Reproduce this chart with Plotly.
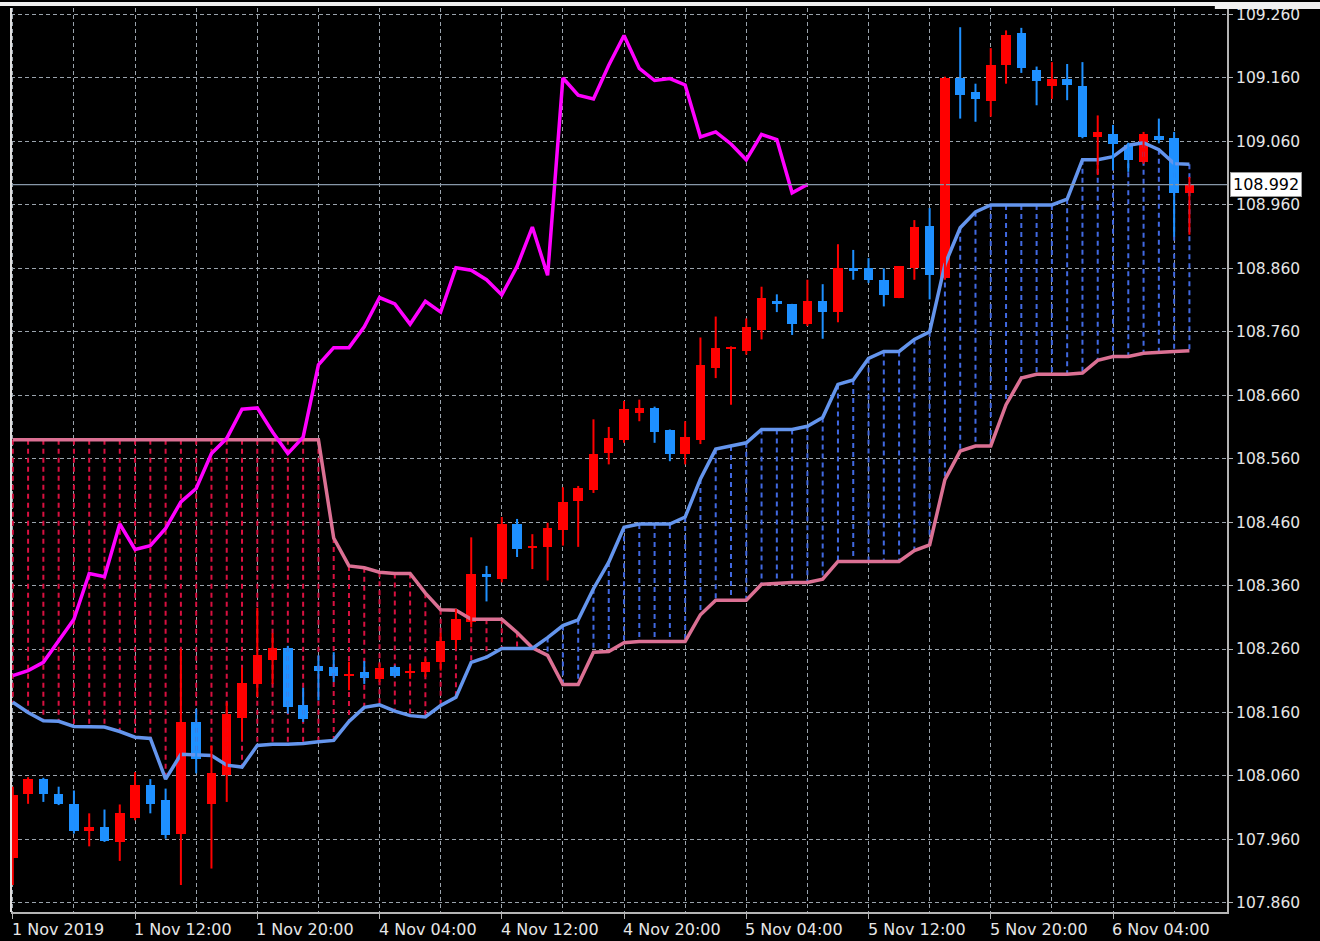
import plotly.graph_objects as go

# ---------------- data ----------------
bars = list(range(78))  # hourly bars, 1 Nov 2019 04:00 ... 6 Nov 09:00

opens = [107.930, 108.031, 108.055, 108.031, 108.015, 107.973, 107.979, 107.956, 107.994, 108.046,
         108.022, 107.968, 108.145, 108.016, 108.062, 108.152, 108.205, 108.243, 108.262, 108.171,
         108.234, 108.231, 108.218, 108.223, 108.213, 108.231, 108.223, 108.223, 108.239, 108.274,
         108.302, 108.378, 108.370, 108.457, 108.419, 108.421, 108.447, 108.493, 108.510, 108.569,
         108.589, 108.632, 108.640, 108.605, 108.567, 108.589, 108.703, 108.733, 108.729, 108.763,
         108.808, 108.803, 108.772, 108.808, 108.791, 108.860, 108.860, 108.842, 108.814, 108.860,
         108.927, 108.844, 109.160, 109.138, 109.123, 109.180, 109.231, 109.173, 109.147, 109.159,
         109.147, 109.067, 109.072, 109.054, 109.027, 109.069, 109.066, 108.979]
highs = [108.043, 108.058, 108.057, 108.043, 108.037, 108.001, 108.007, 108.015, 108.066, 108.055,
         108.040, 108.260, 108.166, 108.108, 108.176, 108.231, 108.325, 108.285, 108.265, 108.199,
         108.250, 108.255, 108.240, 108.241, 108.237, 108.234, 108.234, 108.245, 108.286, 108.323,
         108.436, 108.391, 108.468, 108.465, 108.441, 108.459, 108.515, 108.517, 108.622, 108.610,
         108.651, 108.653, 108.642, 108.606, 108.619, 108.751, 108.784, 108.737, 108.781, 108.831,
         108.819, 108.804, 108.842, 108.835, 108.898, 108.889, 108.876, 108.860, 108.863, 108.936,
         108.955, 109.162, 109.240, 109.151, 109.207, 109.235, 109.239, 109.178, 109.185, 109.182,
         109.185, 109.101, 109.086, 109.058, 109.075, 109.096, 109.075, 109.004]
lows = [107.888, 108.016, 108.019, 108.014, 107.969, 107.949, 107.956, 107.926, 107.990, 108.001,
        107.961, 107.888, 108.064, 107.914, 108.019, 108.116, 108.184, 108.205, 108.158, 108.145,
        108.179, 108.208, 108.195, 108.205, 108.208, 108.215, 108.213, 108.216, 108.226, 108.260,
        108.294, 108.335, 108.365, 108.405, 108.386, 108.368, 108.423, 108.421, 108.506, 108.551,
        108.585, 108.619, 108.585, 108.556, 108.551, 108.583, 108.687, 108.645, 108.724, 108.748,
        108.791, 108.755, 108.769, 108.749, 108.775, 108.842, 108.837, 108.800, 108.813, 108.842,
        108.811, 108.842, 109.096, 109.091, 109.099, 109.151, 109.168, 109.117, 109.127, 109.125,
        109.065, 109.007, 109.015, 109.012, 109.025, 109.057, 108.910, 108.913]
closes = [108.030, 108.055, 108.031, 108.016, 107.973, 107.980, 107.958, 108.001, 108.045, 108.016,
          107.967, 108.145, 108.086, 108.065, 108.157, 108.207, 108.250, 108.261, 108.168, 108.150,
          108.226, 108.217, 108.221, 108.214, 108.230, 108.218, 108.226, 108.239, 108.273, 108.307,
          108.379, 108.374, 108.457, 108.417, 108.423, 108.450, 108.492, 108.513, 108.568, 108.592,
          108.638, 108.640, 108.602, 108.568, 108.594, 108.708, 108.735, 108.735, 108.768, 108.814,
          108.804, 108.772, 108.808, 108.791, 108.861, 108.857, 108.842, 108.818, 108.863, 108.925,
          108.849, 109.160, 109.133, 109.127, 109.180, 109.227, 109.175, 109.156, 109.159, 109.149,
          109.067, 109.075, 109.056, 109.031, 109.071, 109.063, 108.979, 108.992]

# Ichimoku Senkou Span A (blue) and Senkou Span B (pink), per visible bar
senkou_a = [108.176, 108.160, 108.147, 108.146, 108.138, 108.137, 108.137, 108.130, 108.121, 108.119,
            108.055, 108.094, 108.093, 108.092, 108.077, 108.074, 108.108, 108.110, 108.110, 108.111,
            108.114, 108.116, 108.146, 108.168, 108.172, 108.162, 108.155, 108.153, 108.171, 108.184,
            108.239, 108.247, 108.261, 108.261, 108.261, 108.278, 108.297, 108.306, 108.355, 108.397,
            108.452, 108.457, 108.457, 108.457, 108.468, 108.528, 108.575, 108.580, 108.585, 108.606,
            108.606, 108.606, 108.611, 108.625, 108.677, 108.684, 108.718, 108.729, 108.729, 108.748,
            108.760, 108.866, 108.924, 108.949, 108.960, 108.960, 108.960, 108.960, 108.960, 108.969,
            109.031, 109.031, 109.036, 109.054, 109.058, 109.047, 109.025, 109.024]
senkou_b = [108.590, 108.590, 108.590, 108.590, 108.590, 108.590, 108.590, 108.590, 108.590, 108.590,
            108.590, 108.590, 108.590, 108.590, 108.590, 108.590, 108.590, 108.590, 108.590, 108.590,
            108.590, 108.435, 108.391, 108.388, 108.381, 108.379, 108.379, 108.348, 108.322, 108.321,
            108.307, 108.307, 108.307, 108.286, 108.262, 108.250, 108.204, 108.204, 108.255, 108.256,
            108.270, 108.272, 108.272, 108.272, 108.272, 108.314, 108.337, 108.337, 108.337, 108.362,
            108.364, 108.365, 108.365, 108.370, 108.398, 108.398, 108.398, 108.398, 108.398, 108.415,
            108.424, 108.527, 108.572, 108.580, 108.580, 108.645, 108.687, 108.693, 108.693, 108.693,
            108.695, 108.715, 108.721, 108.721, 108.726, 108.728, 108.729, 108.730]

chikou_shift = 25  # Chikou span = close plotted 25 bars back

x_label_bars = [0, 8, 16, 24, 32, 40, 48, 56, 64, 72]
x_label_text = ["1 Nov 2019", "1 Nov 12:00", "1 Nov 20:00", "4 Nov 04:00", "4 Nov 12:00",
                "4 Nov 20:00", "5 Nov 04:00", "5 Nov 12:00", "5 Nov 20:00", "6 Nov 04:00"]
y_tick_vals = [107.86, 107.96, 108.06, 108.16, 108.26, 108.36, 108.46, 108.56, 108.66, 108.76,
               108.86, 108.96, 109.06, 109.16, 109.26]
current_price = 108.992

# ---------------- styles ----------------
BG = "#000000"
GRID = "#9aa3ac"
AXIS = "#b4b4b4"
TXT = "#e6e6e6"
UP = "#ff0000"
DOWN = "#1e90ff"
SPAN_A = "#6495ed"
SPAN_B = "#db7093"
CHIKOU = "#ff00ff"
HATCH_RED = "#d81040"
HATCH_BLUE = "#4169e1"
FONT = "DejaVu Sans"
X_MIN, X_MAX = -0.118, 79.46
Y_MIN, Y_MAX = 107.8455, 109.2703

fig = go.Figure()

# cloud hatch (vertical dotted lines between the spans)
hx_r, hy_r, hx_b, hy_b = [], [], [], []
for i, a, b in zip(bars, senkou_a, senkou_b):
    top, bot = max(a, b), min(a, b)
    if b > a:
        hx_r += [i, i, None]; hy_r += [top, bot, None]
    else:
        hx_b += [i, i, None]; hy_b += [top, bot, None]
fig.add_trace(go.Scatter(x=hx_r, y=hy_r, mode="lines", line=dict(color=HATCH_RED, width=2, dash="5px,4px"), hoverinfo="skip"))
fig.add_trace(go.Scatter(x=hx_b, y=hy_b, mode="lines", line=dict(color=HATCH_BLUE, width=2, dash="5px,4px"), hoverinfo="skip"))

# spans
fig.add_trace(go.Scatter(x=bars, y=senkou_b, mode="lines", line=dict(color=SPAN_B, width=3.5), hoverinfo="skip"))
fig.add_trace(go.Scatter(x=bars, y=senkou_a, mode="lines", line=dict(color=SPAN_A, width=3.5), hoverinfo="skip"))

# chikou span
ch_x = [i - chikou_shift for i in bars[chikou_shift:]]
ch_y = closes[chikou_shift:]
fig.add_trace(go.Scatter(x=ch_x, y=ch_y, mode="lines", line=dict(color=CHIKOU, width=3.5), hoverinfo="skip"))

# current price line
fig.add_trace(go.Scatter(x=[X_MIN, X_MAX], y=[current_price, current_price], mode="lines",
                         line=dict(color="#8797a8", width=1.2), hoverinfo="skip"))

# candles
for up, col in ((True, UP), (False, DOWN)):
    wx, wy, bx, bb, bh = [], [], [], [], []
    for i, o, h, l, c in zip(bars, opens, highs, lows, closes):
        if (c >= o) != up:
            continue
        wx += [i, i, None]; wy += [l, h, None]
        bx.append(i); bb.append(min(o, c)); bh.append(max(abs(c - o), 0.0028))
    fig.add_trace(go.Scatter(x=wx, y=wy, mode="lines", line=dict(color=col, width=2), hoverinfo="skip"))
    fig.add_trace(go.Bar(x=bx, y=bh, base=bb, width=0.62, marker=dict(color=col, line=dict(width=0)), hoverinfo="skip"))

# x labels (left aligned at their bar, MT4 style)
for b, t in zip(x_label_bars, x_label_text):
    fig.add_annotation(x=b, y=0, xref="x", yref="paper", text=t, showarrow=False,
                       xanchor="left", yanchor="middle", xshift=-3, yshift=-17,
                       font=dict(family=FONT, size=16, color=TXT))

# current price tag
fig.add_annotation(x=1, y=current_price, xref="paper", yref="y", text="108.992", showarrow=False,
                   xanchor="left", yanchor="middle", xshift=3, bgcolor="#ffffff",
                   bordercolor="#9a9a9a", borderwidth=1, borderpad=2,
                   font=dict(family=FONT, size=16, color="#000000"))

fig.update_layout(
    width=1320, height=941,
    margin=dict(l=11, r=93, t=6, b=29),
    paper_bgcolor=BG, plot_bgcolor=BG,
    showlegend=False, barmode="overlay", bargap=0,
    xaxis=dict(range=[X_MIN, X_MAX], tickmode="array", tickvals=x_label_bars, showticklabels=False,
               ticks="outside", ticklen=5, tickcolor=AXIS, tickwidth=1,
               showgrid=True, gridcolor=GRID, griddash="4px,3px", gridwidth=1,
               minor=dict(tickmode="array", tickvals=[b + 4 for b in x_label_bars], showgrid=True,
                          gridcolor=GRID, griddash="4px,3px", gridwidth=1, ticks=""),
               zeroline=False, showline=True, linecolor=AXIS, linewidth=1.5, fixedrange=True),
    yaxis=dict(side="right", range=[Y_MIN, Y_MAX], tickmode="array", tickvals=y_tick_vals,
               ticktext=[f"{v:.3f}" for v in y_tick_vals],
               ticks="outside", ticklen=4, tickcolor=AXIS, tickwidth=1,
               showgrid=True, gridcolor=GRID, griddash="4px,3px", gridwidth=1,
               zeroline=False, showline=True, linecolor=AXIS, linewidth=2,
               tickfont=dict(family=FONT, size=15.5, color=TXT), fixedrange=True),
    shapes=[
        dict(type="line", xref="paper", yref="paper", x0=0, x1=0, y0=0, y1=1,
             line=dict(color="#e0e0e0", width=2), layer="above"),
        dict(type="rect", xref="paper", yref="paper", x0=-0.02, x1=1.1, y0=1 + 2 / 906, y1=1 + 6 / 906,
             fillcolor="#f0f0f0", line=dict(width=0), layer="above"),
        dict(type="rect", xref="paper", yref="paper", x0=0.99, x1=1.1, y0=1 - 1 / 906, y1=1 + 6 / 906,
             fillcolor="#f0f0f0", line=dict(width=0), layer="above"),
    ],
)

fig.write_html("out.html", config={"displayModeBar": False},
               post_script="document.body.style.margin='0';document.body.style.background='#000';")
